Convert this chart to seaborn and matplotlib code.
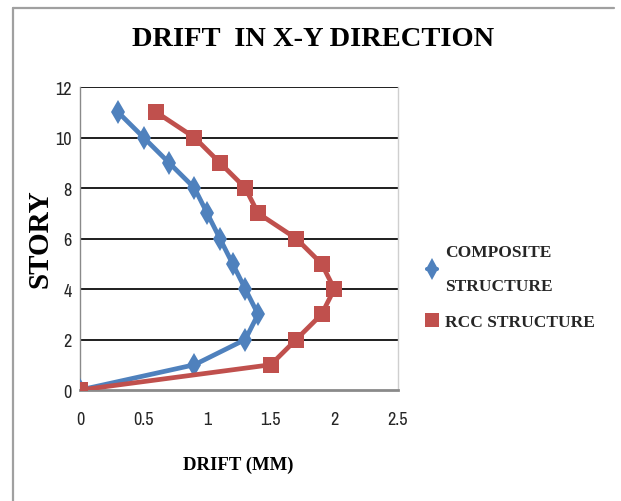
import matplotlib
matplotlib.use("Agg")
import matplotlib.pyplot as plt
from matplotlib.lines import Line2D
import seaborn as sns
import pandas as pd

story = [0, 1, 2, 3, 4, 5, 6, 7, 8, 9, 10, 11]
composite_drift = [0, 0.9, 1.3, 1.4, 1.3, 1.2, 1.1, 1.0, 0.9, 0.7, 0.5, 0.3]
rcc_drift = [0, 1.5, 1.7, 1.9, 2.0, 1.9, 1.7, 1.4, 1.3, 1.1, 0.9, 0.6]
series_names = ["COMPOSITE\nSTRUCTURE", "RCC STRUCTURE"]
x_ticks = [0, 0.5, 1, 1.5, 2, 2.5]
x_tick_labels = ["0", "0.5", "1", "1.5", "2", "2.5"]
y_ticks = [0, 2, 4, 6, 8, 10, 12]

title_text = "DRIFT  IN X-Y DIRECTION"
x_label = "DRIFT (MM)"
y_label = "STORY"

colors = ["#4F81BD", "#C0504D"]
serif_fonts = ["Liberation Serif", "DejaVu Serif"]
tick_fonts = ["Archivo Narrow", "Carlito", "Liberation Sans", "DejaVu Sans"]

sns.set_theme(style="white")

fig = plt.figure(figsize=(6.21, 5.02), dpi=100)
ax = fig.add_axes([0.1288, 0.2211, 0.512, 0.6036])

df = pd.concat([
    pd.DataFrame({"drift": composite_drift, "story": story, "series": series_names[0]}),
    pd.DataFrame({"drift": rcc_drift, "story": story, "series": series_names[1]}),
])
sns.lineplot(data=df, x="drift", y="story", hue="series", style="series",
             markers=["d", "s"], dashes=False, sort=False, estimator=None,
             ax=ax, lw=3.4, palette=colors, markersize=12,
             markeredgewidth=0, legend=False, zorder=3)

ax.set_xlim(0, 2.5)
ax.set_ylim(0, 12)
ax.set_xticks(x_ticks)
ax.set_xticklabels(x_tick_labels)
ax.set_yticks(y_ticks)
ax.set_xlabel("")
ax.set_ylabel("")
for y in y_ticks[1:]:
    ax.axhline(y, color="#1e1e1e", lw=1.4, zorder=1)

ax.tick_params(axis="x", pad=15, length=0)
ax.tick_params(axis="y", pad=6, length=0)
for lab in ax.get_xticklabels() + ax.get_yticklabels():
    lab.set_family(tick_fonts)
    lab.set_fontsize(13)
    lab.set_color("#262626")

ax.spines["left"].set_color("#8a8a8a")
ax.spines["left"].set_linewidth(1.0)
ax.spines["bottom"].set_color("#8a8a8a")
ax.spines["bottom"].set_linewidth(2.0)
ax.spines["right"].set_color("#cfcfcf")
ax.spines["right"].set_linewidth(1.0)
ax.spines["top"].set_visible(False)

fig.text(0.504, 0.922, title_text, ha="center", va="center",
         family=serif_fonts, fontweight="bold", fontsize=20.5, color="black")
fig.text(0.064, 0.524, y_label, ha="center", va="center", rotation=90,
         family=serif_fonts, fontweight="bold", fontsize=21, color="black")
fig.text(0.383, 0.073, x_label, ha="center", va="center",
         family=serif_fonts, fontweight="bold", fontsize=13.5, color="black")

handles = [
    Line2D([], [], color=colors[0], marker="d", markersize=11, lw=3, markeredgewidth=0),
    Line2D([], [], color=colors[1], marker="s", markersize=10, lw=3, markeredgewidth=0),
]
leg = fig.legend(handles, series_names, loc="center left",
                 bbox_to_anchor=(0.662, 0.427), frameon=False,
                 handlelength=0.6, handletextpad=0.45, labelspacing=1.15,
                 prop={"family": serif_fonts, "weight": "bold", "size": 12.5})
for t in leg.get_texts():
    t.set_linespacing(2.5)

# chart area frame: left and top edges
fig.add_artist(Line2D([13 / 621, 13 / 621], [0, 1 - 9 / 502], color="#a0a0a0", lw=1.6))
fig.add_artist(Line2D([13 / 621, 614 / 621], [1 - 9 / 502, 1 - 9 / 502], color="#a0a0a0", lw=1.6))

fig.savefig("out.png", dpi=100)
